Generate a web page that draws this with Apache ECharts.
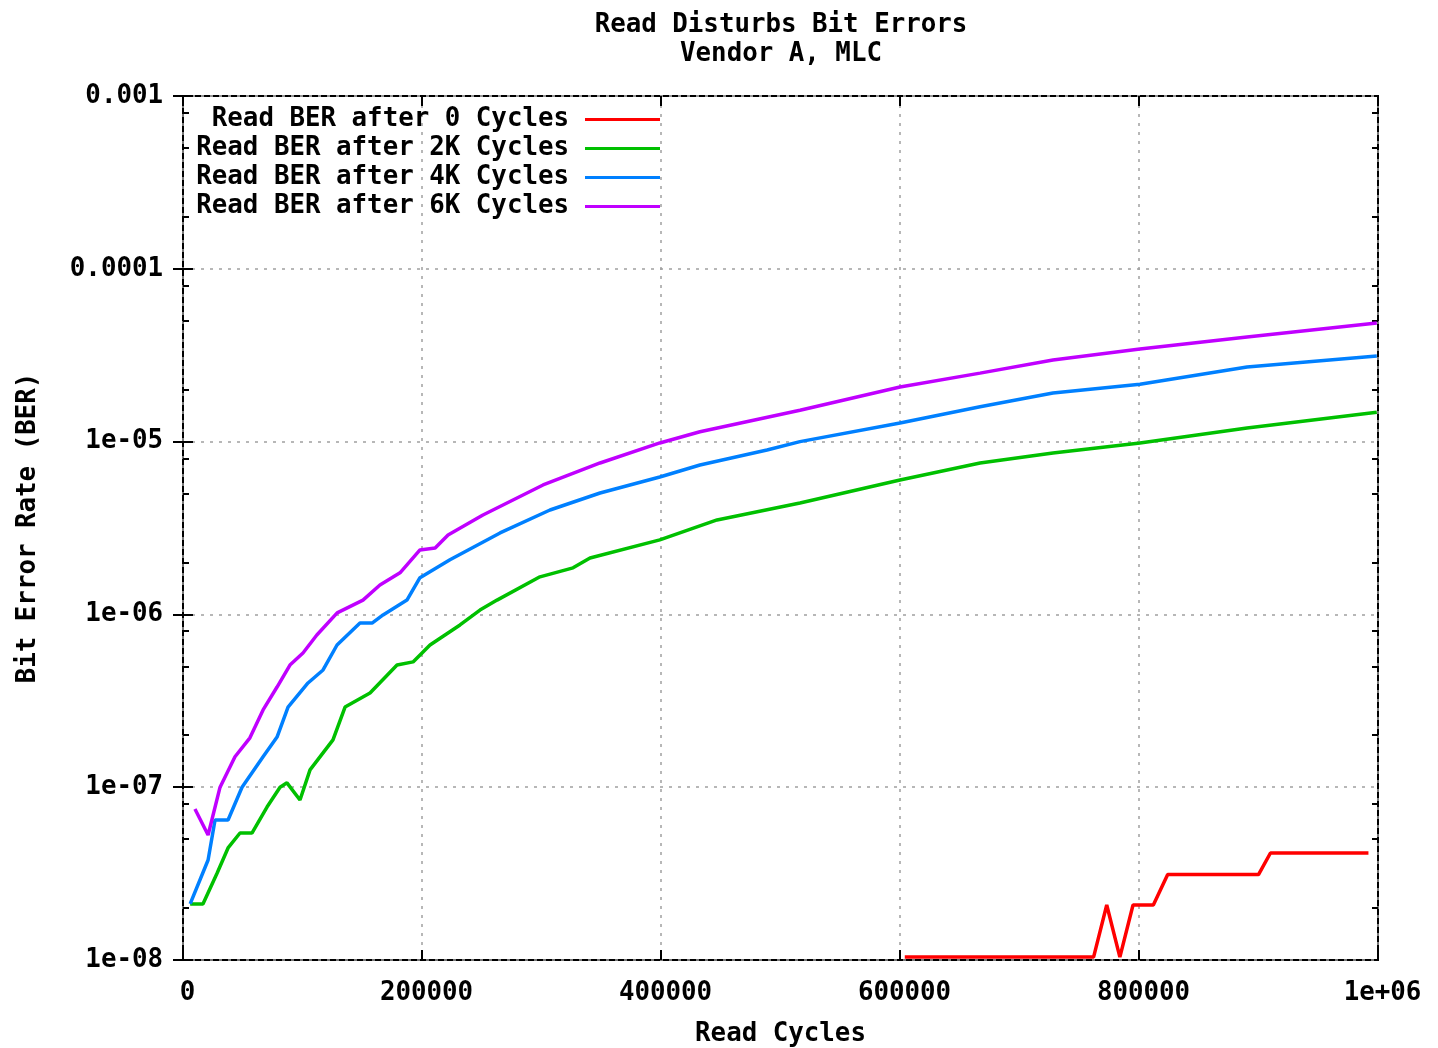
<!DOCTYPE html>
<html>
<head>
<meta charset="utf-8">
<script src="https://cdn.jsdelivr.net/npm/echarts@6/dist/echarts.min.js"></script>
<style>
html,body{margin:0;padding:0;background:#fff;}
#chart{width:1438px;height:1048px;}
</style>
</head>
<body>
<div id="chart"></div>
<script>
// ---- data (read cycles, bit error rate) ----
const seriesNames = ['Read BER after 0 Cycles','Read BER after 2K Cycles','Read BER after 4K Cycles','Read BER after 6K Cycles'];

const red0kX = [604000,762000,773000,784000,795000,812000,824000,900000,910000,992000];
const red0kY = [1.04e-8,1.04e-8,2.08e-8,1.04e-8,2.08e-8,2.08e-8,3.12e-8,3.12e-8,4.16e-8,4.16e-8];

const green2kX = [6000,16700,28500,37700,47700,57700,70300,81200,87000,97900,106300,125500,135600,156500,179100,192500,206700,231800,248500,262800,298700,326400,340600,399000,446900,516300,600000,667000,728000,800800,890400,999000];
const green2kY = [2.11e-8,2.11e-8,3.18e-8,4.45e-8,5.43e-8,5.43e-8,7.68e-8,1.0e-7,1.06e-7,8.43e-8,1.26e-7,1.88e-7,2.91e-7,3.51e-7,5.09e-7,5.31e-7,6.65e-7,8.69e-7,1.06e-6,1.21e-6,1.65e-6,1.86e-6,2.12e-6,2.70e-6,3.52e-6,4.41e-6,6.0e-6,7.52e-6,8.59e-6,9.82e-6,1.20e-5,1.48e-5];

const blue4kX = [6000,21000,26800,37700,49400,67000,78700,87900,104600,117200,128900,148100,158200,167400,187400,198300,223400,265300,307100,349000,399000,432600,488700,516300,600000,667000,728000,800800,890400,999000];
const blue4kY = [2.11e-8,3.79e-8,6.46e-8,6.46e-8,1.0e-7,1.50e-7,1.95e-7,2.91e-7,4.01e-7,4.77e-7,6.65e-7,8.91e-7,8.91e-7,9.93e-7,1.21e-6,1.63e-6,2.07e-6,2.96e-6,4.02e-6,5.04e-6,6.24e-6,7.32e-6,8.94e-6,1.0e-5,1.28e-5,1.59e-5,1.91e-5,2.15e-5,2.70e-5,3.13e-5];

const purple6kX = [10000,21000,31000,43500,56000,67000,78700,89500,100400,112000,129000,150600,164800,181600,198300,211000,221800,251000,301300,349000,399000,432600,516300,600000,667000,728000,800800,890400,999000];
const purple6kY = [7.48e-8,5.29e-8,1.0e-7,1.50e-7,1.93e-7,2.80e-7,3.80e-7,5.09e-7,5.98e-7,7.60e-7,1.02e-6,1.21e-6,1.48e-6,1.74e-6,2.36e-6,2.42e-6,2.88e-6,3.76e-6,5.61e-6,7.52e-6,9.82e-6,1.14e-5,1.52e-5,2.07e-5,2.49e-5,2.97e-5,3.43e-5,4.03e-5,4.86e-5];

const xTickLabels = {0:'0',200000:'200000',400000:'400000',600000:'600000',800000:'800000',1000000:'1e+06'};
const yTickLabels = {'-3':'0.001','-4':'0.0001','-5':'1e-05','-6':'1e-06','-7':'1e-07','-8':'1e-08'};
const minorMultipliers = [2,5,8];
const decades = [-8,-7,-6,-5,-4];

// ---- build ----
const FONT = 'DejaVu Sans Mono';
const zip = (xs, ys) => xs.map((x, i) => [x, ys[i]]);
const colors = ['#ff0000','#00c000','#0080ff','#c000ff'];
const dataSets = [zip(red0kX, red0kY), zip(green2kX, green2kY), zip(blue4kX, blue4kY), zip(purple6kX, purple6kY)];

const minorTickVals = [];
decades.forEach(d => minorMultipliers.forEach(m => minorTickVals.push(Math.log10(m) + d)));

const txt = {fontFamily: FONT, fontWeight: 'bold', fontSize: 25.8, color: '#000'};
const gridLine = {show: true, lineStyle: {color: '#a0a0a0', width: 1.5, type: [3, 6]}};
const majorTick = {show: true, inside: true, length: 10, lineStyle: {color: '#000', width: 2}};
const minorTickStyle = {show: true, inside: true, length: 6, lineStyle: {color: '#000', width: 2}};

const chart = echarts.init(document.getElementById('chart'), null, {renderer: 'canvas'});
chart.setOption({
  animation: false,
  backgroundColor: '#fff',
  title: {
    text: 'Read Disturbs Bit Errors\nVendor A, MLC',
    left: 776, top: 6, textAlign: 'center',
    textStyle: Object.assign({}, txt, {lineHeight: 29})
  },
  legend: {
    orient: 'vertical', align: 'right',
    right: 778, top: 105, padding: 0, itemGap: 0,
    itemWidth: 75, itemHeight: 3, icon: 'rect',
    textStyle: Object.assign({}, txt, {lineHeight: 29, padding: [0, 11, 0, 0]}),
    data: seriesNames
  },
  grid: {left: 183, right: 60, top: 96, bottom: 88, show: true, borderColor: '#000', borderWidth: 2, containLabel: false, outerBoundsMode: 'none'},
  xAxis: [
    {
      type: 'value', min: 0, max: 1000000, interval: 200000,
      name: 'Read Cycles', nameLocation: 'middle', nameGap: 61,
      nameTextStyle: txt,
      axisLine: {show: false},
      axisTick: majorTick,
      axisLabel: Object.assign({}, txt, {margin: 20, padding: [0, 0, 0, 9], formatter: v => xTickLabels[v] !== undefined ? xTickLabels[v] : ''}),
      splitLine: gridLine
    },
    {
      type: 'value', min: 0, max: 1000000, interval: 200000, position: 'top',
      axisLine: {show: false}, axisTick: majorTick, axisLabel: {show: false}, splitLine: {show: false}
    }
  ],
  yAxis: [
    {
      type: 'log', logBase: 10, min: 1e-8, max: 1e-3,
      name: 'Bit Error Rate (BER)', nameLocation: 'middle', nameGap: 142,
      nameTextStyle: txt,
      axisLine: {show: false},
      axisTick: majorTick,
      axisLabel: Object.assign({}, txt, {margin: 20, padding: [3, 0, 0, 0], formatter: v => {
        const k = String(Math.round(Math.log10(v)));
        return yTickLabels[k] !== undefined ? yTickLabels[k] : '';
      }}),
      splitLine: gridLine
    },
    {
      type: 'log', logBase: 10, min: 1e-8, max: 1e-3, position: 'right',
      axisLine: {show: false}, axisTick: majorTick, axisLabel: {show: false}, splitLine: {show: false}
    },
    {
      type: 'value', min: -8, max: -3, position: 'left',
      axisLine: {show: false},
      axisTick: Object.assign({}, minorTickStyle, {customValues: minorTickVals}),
      axisLabel: {show: false}, splitLine: {show: false}
    },
    {
      type: 'value', min: -8, max: -3, position: 'right',
      axisLine: {show: false},
      axisTick: Object.assign({}, minorTickStyle, {customValues: minorTickVals}),
      axisLabel: {show: false}, splitLine: {show: false}
    }
  ],
  series: seriesNames.map((name, i) => ({
    name: name, type: 'line', xAxisIndex: 0, yAxisIndex: 0,
    data: dataSets[i], showSymbol: false, symbol: 'none',
    color: colors[i],
    lineStyle: {color: colors[i], width: 3.5},
    itemStyle: {color: colors[i]},
    emphasis: {disabled: true}
  }))
});
</script>
</body>
</html>
